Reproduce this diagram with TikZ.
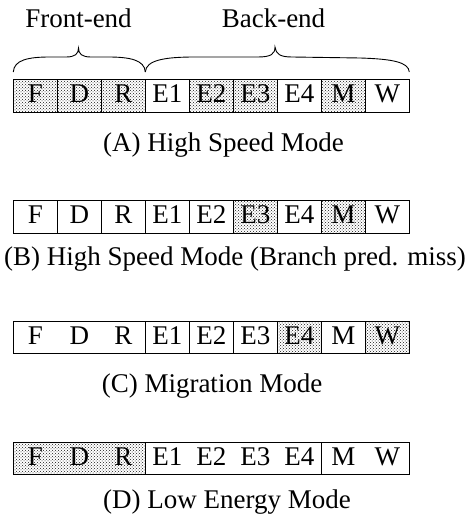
\documentclass[tikz,border=0pt]{standalone}
\usepackage{fontspec}
\setmainfont{Liberation Serif}
\usetikzlibrary{patterns}
\begin{document}
\begin{tikzpicture}[x=1pt,y=-1pt,
  cell/.style={draw, line width=0.9pt, minimum height=32.5pt, inner sep=0pt, outer sep=0pt, anchor=north west},
  shd/.style={pattern=crosshatch dots, pattern color=black!90},
  plain/.style={},
  lbl/.style={font=\fontsize{27}{30}\selectfont, anchor=base, inner sep=0pt},
  bracel/.style={line width=0.9pt}
]
\useasboundingbox (0,0) rectangle (470,518);

% labels
\node[lbl] (fe) at (78.5,28) {Front-end};
\node[lbl] (be) at (273.5,28) {Back-end};

% braces
\coordinate (f1) at (13.3,72);
\coordinate (ft) at (78.5,48);
\coordinate (f2) at (145.3,72);
\coordinate (b2) at (409.3,72);
\coordinate (bt) at (275,47);
\draw[bracel] (f1) .. controls (14,60) and (28,57) .. (50,57) -- (66,57)
  .. controls (75,57) and (78.5,54) .. (ft)
  .. controls (78.5,54) and (82,57) .. (91,57) -- (108,57)
  .. controls (130,57) and (144.6,60) .. (f2);
\draw[bracel] (f2) .. controls (146,60) and (165,57) .. (195,57) -- (258,57)
  .. controls (271,57) and (275,54) .. (bt)
  .. controls (276,54) and (280,57) .. (292,57) -- (360,58)
  .. controls (392,59) and (408.6,62) .. (b2);

% Row A
\foreach \i/\t/\st in {0/F/shd,1/D/shd,2/R/shd,3/E1/plain,4/E2/shd,5/E3/shd,6/E4/plain,7/M/shd,8/W/plain}{
  \node[cell, minimum width=44pt, style=\st] (A\i) at ({13.3+44*\i},79.5) {};
  \node[lbl] (At\i) at ({35.3+44*\i},102.5) {\t};
}
\node[lbl] (capA) at (223.5,152) {(A) High Speed Mode};

% Row B
\foreach \i/\t/\st in {0/F/plain,1/D/plain,2/R/plain,3/E1/plain,4/E2/plain,5/E3/shd,6/E4/plain,7/M/shd,8/W/plain}{
  \node[cell, minimum width=44pt, style=\st] (B\i) at ({13.3+44*\i},200.5) {};
  \node[lbl] (Bt\i) at ({35.3+44*\i},223.5) {\t};
}
\node[lbl] (capB) at (235,265) {(B) High Speed Mode (Branch pred. miss)};

% Row C
\node[cell, minimum width=132pt] (C0) at (13.3,321) {};
\foreach \i/\st in {3/plain,4/plain,5/plain,6/shd,7/plain,8/shd}{
  \node[cell, minimum width=44pt, style=\st] (C\i) at ({13.3+44*\i},321) {};
}
\foreach \i/\t in {0/F,1/D,2/R,3/E1,4/E2,5/E3,6/E4,7/M,8/W}{
  \node[lbl] (Ct\i) at ({35.3+44*\i},344) {\t};
}
\node[lbl] (capC) at (212,392) {(C) Migration Mode};

% Row D
\node[cell, minimum width=132pt, shd] (D0) at (13.3,442) {};
\node[cell, minimum width=176pt] (D3) at (145.3,442) {};
\node[cell, minimum width=88pt] (D7) at (321.3,442) {};
\foreach \i/\t in {0/F,1/D,2/R,3/E1,4/E2,5/E3,6/E4,7/M,8/W}{
  \node[lbl] (Dt\i) at ({35.3+44*\i},465) {\t};
}
\node[lbl] (capD) at (227,508) {(D) Low Energy Mode};
\end{tikzpicture}
\end{document}
